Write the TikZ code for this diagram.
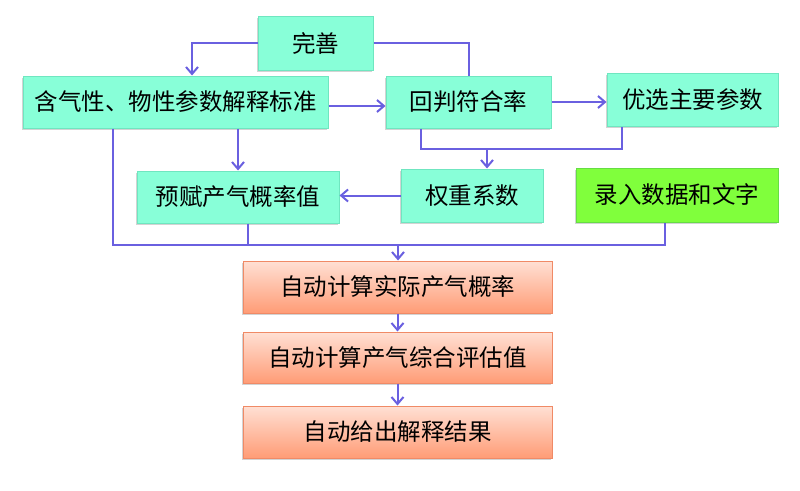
\documentclass[tikz,border=0pt]{standalone}
\usepackage{fontspec}
\newfontfamily\cjk{Noto Sans CJK SC}
\usetikzlibrary{arrows.meta,shadows}
\definecolor{aqua}{HTML}{88FFD8}
\definecolor{aqualine}{HTML}{6FE6C0}
\definecolor{lime}{HTML}{80FF3C}
\definecolor{limeline}{HTML}{66DD44}
\definecolor{peachtop}{HTML}{FFE0D4}
\definecolor{peachbot}{HTML}{FF9C76}
\definecolor{peachline}{HTML}{F08A66}
\definecolor{wire}{HTML}{6A60E0}

\begin{document}
\begin{tikzpicture}[x=1pt,y=-1pt,
  box/.style={draw=aqualine,fill=aqua,line width=1pt,inner sep=0pt,
    font=\cjk\fontsize{23.5}{26}\selectfont,
    drop shadow={shadow xshift=-1.5pt,shadow yshift=-2pt,opacity=0.35}},
  inbox/.style={box,draw=limeline,fill=lime},
  autobox/.style={box,draw=peachline,top color=peachtop,bottom color=peachbot},
  wire/.style={draw=wire,line width=2pt},
  link/.style={wire,-{Straight Barb[length=7pt,width=12pt,line width=2pt]}}]
\useasboundingbox (0,0) rectangle (800,490);
\node [box,minimum width=115pt,minimum height=54pt] (wanshan) at (315.5,43) {完善};
\node [box,minimum width=305pt,minimum height=52pt] (biaozhun) at (175.5,102) {含气性、物性参数解释标准};
\node [box,minimum width=165pt,minimum height=52pt] (huipan) at (468.5,102) {回判符合率};
\node [box,minimum width=171pt,minimum height=53pt] (youxuan) at (692.5,99.5) {优选主要参数};
\node [box,minimum width=202pt,minimum height=52pt] (yufu) at (238,197) {预赋产气概率值};
\node [box,minimum width=142pt,minimum height=53pt] (quanzhong) at (472,195.5) {权重系数};
\node [inbox,minimum width=202pt,minimum height=54pt] (luru) at (677,195) {录入数据和文字};
\node [autobox,minimum width=309pt,minimum height=52pt] (shiji) at (397.5,287) {自动计算实际产气概率};
\node [autobox,minimum width=309pt,minimum height=51pt] (zonghe) at (397.5,357.5) {自动计算产气综合评估值};
\node [autobox,minimum width=309pt,minimum height=52pt] (jieguo) at (397.5,432) {自动给出解释结果};
\coordinate (jn) at (487,149);
\coordinate (bus) at (398,245);
\draw [link] (wanshan.west) -| ([xshift=16.5pt]biaozhun.north);
\draw [wire] (wanshan.east) -| (huipan.north);
\draw [link] ([yshift=-4pt]biaozhun.east) -- ([yshift=-4pt]huipan.west);
\draw [link] (huipan.east) -- (huipan.east -| youxuan.west);
\draw [link] (yufu.north |- biaozhun.south) -- (yufu.north);
\draw [link] (quanzhong.west) -- (quanzhong.west -| yufu.east);
\draw [wire] ([xshift=-47.5pt]huipan.south) |- (jn) -| ([xshift=-70.5pt]youxuan.south);
\draw [link] (jn) -- (jn |- quanzhong.north);
\draw [wire] ([xshift=-62.5pt]biaozhun.south) |- (bus) -| ([xshift=-12pt]luru.south);
\draw [wire] ([xshift=10pt]yufu.south) coordinate (yf) -- (yf |- bus);
\draw [link] (bus) -- (bus |- shiji.north);
\draw [link] (shiji.south) -- (zonghe.north);
\draw [link] (zonghe.south) -- (jieguo.north);
\end{tikzpicture}
\end{document}
